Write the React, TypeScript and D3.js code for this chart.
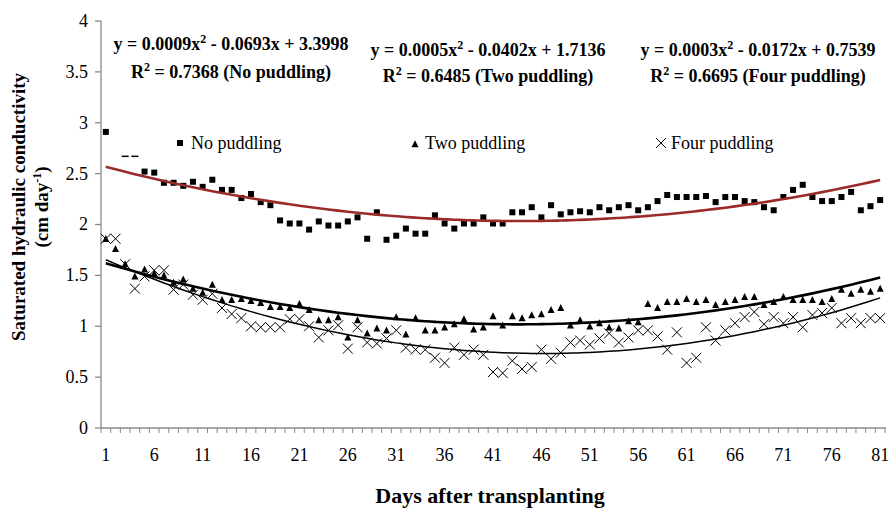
import React from "react";
import * as d3 from "d3";

const days: number[] = d3.range(1, 82);
const tickDays = [1, 6, 11, 16, 21, 26, 31, 36, 41, 46, 51, 56, 61, 66, 71, 76, 81];
const yTicks = [0, 0.5, 1, 1.5, 2, 2.5, 3, 3.5, 4];

const noPuddling: (number | null)[] = [
  2.91, null, 2.67, 2.67, 2.52, 2.51, 2.41, 2.41, 2.38, 2.42,
  2.37, 2.44, 2.34, 2.34, 2.26, 2.30, 2.22, 2.19, 2.04, 2.01,
  2.01, 1.95, 2.03, 1.99, 1.99, 2.03, 2.07, 1.86, 2.12, 1.85,
  1.89, 1.96, 1.91, 1.91, 2.09, 2.01, 1.96, 2.01, 2.01, 2.07,
  2.01, 2.01, 2.12, 2.12, 2.17, 2.07, 2.19, 2.10, 2.12, 2.13,
  2.12, 2.17, 2.14, 2.17, 2.19, 2.14, 2.17, 2.23, 2.29, 2.27,
  2.27, 2.27, 2.28, 2.22, 2.27, 2.27, 2.23, 2.22, 2.17, 2.14,
  2.27, 2.34, 2.39, 2.27, 2.23, 2.23, 2.27, 2.32, 2.14, 2.18,
  2.24,
];
// days whose square marker is rendered clipped (as a dash) in the original
const dashDays = [3, 4];

const twoPuddling: number[] = [
  1.86, 1.76, 1.61, 1.49, 1.56, 1.52, 1.50, 1.43, 1.46, 1.37,
  1.33, 1.41, 1.26, 1.26, 1.27, 1.25, 1.23, 1.19, 1.19, 1.18,
  1.22, 1.16, 1.06, 1.06, 1.09, 0.89, 1.06, 0.93, 0.98, 0.96,
  1.09, 0.92, 1.08, 0.96, 0.96, 0.99, 1.02, 1.07, 0.97, 0.99,
  1.10, 1.01, 1.10, 1.08, 1.11, 1.12, 1.16, 1.18, 1.01, 1.06,
  1.00, 1.03, 0.99, 0.98, 1.05, 1.04, 1.22, 1.18, 1.24, 1.24,
  1.27, 1.24, 1.26, 1.21, 1.24, 1.26, 1.29, 1.29, 1.21, 1.24,
  1.29, 1.26, 1.26, 1.26, 1.24, 1.27, 1.36, 1.32, 1.36, 1.34,
  1.37,
];

const fourPuddling: number[] = [
  1.86, 1.86, 1.61, 1.37, 1.49, 1.55, 1.55, 1.36, 1.41, 1.31,
  1.26, 1.32, 1.18, 1.12, 1.08, 1.00, 0.99, 0.99, 0.99, 1.07,
  1.07, 1.00, 0.89, 0.96, 1.01, 0.78, 0.99, 0.84, 0.83, 0.88,
  0.96, 0.79, 0.77, 0.77, 0.69, 0.64, 0.79, 0.72, 0.77, 0.72,
  0.55, 0.54, 0.66, 0.58, 0.60, 0.77, 0.68, 0.74, 0.84, 0.86,
  0.82, 0.88, 0.93, 0.84, 0.89, 0.96, 0.96, 0.90, 0.77, 0.94,
  0.64, 0.69, 0.99, 0.86, 0.96, 1.03, 1.09, 1.14, 1.02, 1.09,
  1.03, 1.09, 0.99, 1.11, 1.13, 1.18, 1.03, 1.08, 1.03, 1.08,
  1.08,
];

const equations = [
  { eq: "y = 0.0009x", rest: " - 0.0693x + 3.3998", r: " = 0.7368 (No puddling)" },
  { eq: "y = 0.0005x", rest: " - 0.0402x + 1.7136", r: " = 0.6485 (Two puddling)" },
  { eq: "y = 0.0003x", rest: " - 0.0172x + 0.7539", r: " = 0.6695 (Four puddling)" },
];
const legendNames = ["No puddling", "Two puddling", "Four puddling"];

function quadFit(xs: number[], ys: (number | null)[]) {
  const pts = xs.map((x, i) => [x, ys[i]] as [number, number | null]).filter((p) => p[1] != null) as [number, number][];
  let s0 = 0, s1 = 0, s2 = 0, s3 = 0, s4 = 0, t0 = 0, t1 = 0, t2 = 0;
  for (const [x, y] of pts) {
    s0 += 1; s1 += x; s2 += x * x; s3 += x ** 3; s4 += x ** 4;
    t0 += y; t1 += x * y; t2 += x * x * y;
  }
  const M = [
    [s4, s3, s2, t2],
    [s3, s2, s1, t1],
    [s2, s1, s0, t0],
  ];
  for (let i = 0; i < 3; i++) {
    for (let k = i + 1; k < 3; k++) {
      const f = M[k][i] / M[i][i];
      for (let j = i; j < 4; j++) M[k][j] -= f * M[i][j];
    }
  }
  const c = [0, 0, 0];
  for (let i = 2; i >= 0; i--) {
    let s = M[i][3];
    for (let j = i + 1; j < 3; j++) s -= M[i][j] * c[j];
    c[i] = s / M[i][i];
  }
  return (x: number) => c[0] * x * x + c[1] * x + c[2];
}

export default function App() {
  const W = 889, H = 510;
  const x = d3.scalePoint<number>().domain(days).range([101, 885]).padding(0.5);
  const y = d3.scaleLinear().domain([0, 4]).range([428, 21]);
  const step = x.step();
  const font = "'Liberation Serif', 'Times New Roman', serif";
  const axisColor = "#8a8a8a";

  const fits = [
    { f: quadFit(days, noPuddling), color: "#9b2b2b", w: 2.6 },
    { f: quadFit(days, twoPuddling), color: "#000", w: 2.6 },
    { f: quadFit(days, fourPuddling), color: "#000", w: 1.5 },
  ];
  const line = d3.line<number>().x((d) => x(d)!).y((d) => y(d)).curve(d3.curveMonotoneX);

  const sq = 6;
  const triPath = (cx: number, cy: number, s = 7) =>
    `M${cx},${cy - s * 0.55}L${cx + s / 2},${cy + s * 0.45}L${cx - s / 2},${cy + s * 0.45}Z`;
  const crossPath = (cx: number, cy: number, s = 5) =>
    `M${cx - s},${cy - s}L${cx + s},${cy + s}M${cx - s},${cy + s}L${cx + s},${cy - s}`;

  const eqCenters = [231, 488, 758];
  const eqY1 = [50, 56, 56];
  const eqY2 = [78, 82, 82];

  return (
    <svg width={W} height={H} style={{ position: "absolute", left: 0, top: 0, background: "#fff" }} fontFamily={font}>
      <rect width={W} height={H} fill="#fff" />
      {/* axes */}
      <line x1={101} x2={101} y1={y(4)} y2={y(0)} stroke={axisColor} strokeWidth={1.3} />
      <line x1={101} x2={886} y1={y(0)} y2={y(0)} stroke={axisColor} strokeWidth={1.3} />
      {yTicks.map((t) => (
        <g key={t}>
          <line x1={95} x2={101} y1={y(t)} y2={y(t)} stroke={axisColor} strokeWidth={1.3} />
          <text x={88} y={y(t)} dy="0.33em" textAnchor="end" fontSize={18}>{t}</text>
        </g>
      ))}
      {d3.range(0, 82).map((i) => (
        <line key={i} x1={101 + i * step} x2={101 + i * step} y1={y(0)} y2={y(0) + 5} stroke={axisColor} strokeWidth={1} />
      ))}
      {tickDays.map((d) => (
        <text key={d} x={x(d)} y={461} textAnchor="middle" fontSize={18}>{d}</text>
      ))}
      <text x={490} y={503} textAnchor="middle" fontSize={22} fontWeight="bold">Days after transplanting</text>
      <text transform="translate(25,207) rotate(-90)" textAnchor="middle" fontSize={19} fontWeight="bold">
        Saturated hydraulic conductivity
      </text>
      <text transform="translate(48,207) rotate(-90)" textAnchor="middle" fontSize={19} fontWeight="bold">
        (cm day<tspan dy="-7" fontSize={12}>-1</tspan><tspan dy="7">)</tspan>
      </text>

      {/* markers */}
      {noPuddling.map((v, i) =>
        v == null ? null : dashDays.includes(days[i]) ? (
          <rect key={"n" + i} x={x(days[i])! - 3.5} y={y(v) - 0.75} width={7} height={1.5} fill="#000" />
        ) : (
          <rect key={"n" + i} x={x(days[i])! - sq / 2} y={y(v) - sq / 2} width={sq} height={sq} fill="#000" />
        )
      )}
      {twoPuddling.map((v, i) => (
        <path key={"t" + i} d={triPath(x(days[i])!, y(v))} fill="#000" />
      ))}
      {fourPuddling.map((v, i) => (
        <path key={"f" + i} d={crossPath(x(days[i])!, y(v))} stroke="#000" strokeWidth={1} fill="none" />
      ))}

      {/* trend lines */}
      {fits.map((ft, k) => (
        <path key={k} d={line.y((d) => y(ft.f(d)))(days) || ""} fill="none" stroke={ft.color} strokeWidth={ft.w} />
      ))}

      {/* legend */}
      <rect x={177} y={140} width={6} height={6} fill="#000" />
      <text x={191} y={149} fontSize={18}>{legendNames[0]}</text>
      <path d={triPath(415, 144, 7)} fill="#000" />
      <text x={425} y={149} fontSize={18}>{legendNames[1]}</text>
      <path d={crossPath(661, 143, 5)} stroke="#000" strokeWidth={1} fill="none" />
      <text x={671} y={149} fontSize={18}>{legendNames[2]}</text>

      {/* equations */}
      {equations.map((e, k) => (
        <g key={k} fontWeight="bold" fontSize={18} textAnchor="middle">
          <text x={eqCenters[k]} y={eqY1[k]}>
            {e.eq}
            <tspan dy="-7" fontSize={12}>2</tspan>
            <tspan dy="7">{e.rest}</tspan>
          </text>
          <text x={eqCenters[k]} y={eqY2[k]}>
            R<tspan dy="-7" fontSize={12}>2</tspan>
            <tspan dy="7">{e.r}</tspan>
          </text>
        </g>
      ))}
    </svg>
  );
}
